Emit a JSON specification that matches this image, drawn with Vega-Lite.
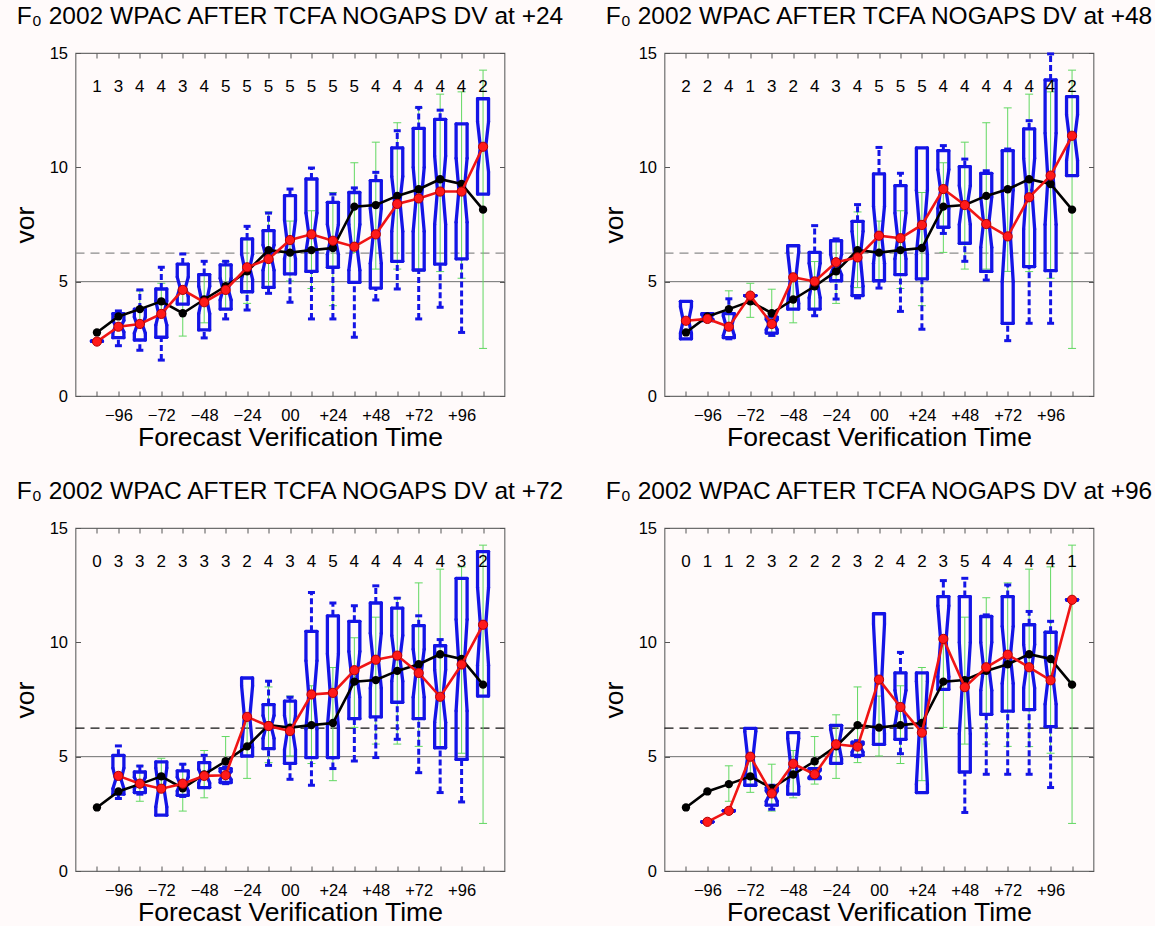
{
  "$schema": "https://vega.github.io/schema/vega-lite/v6.json",
  "background": "#fffafa",
  "padding": {"left": 11.5, "top": 2, "right": 0, "bottom": 0},
  "bounds": "flush",
  "columns": 2,
  "spacing": {"row": 132, "column": 160},
  "datasets": {
    "analysis": [
      {"h": -108, "blk": 2.78, "glo": null, "ghi": null},
      {"h": -96, "blk": 3.48, "glo": null, "ghi": null},
      {"h": -84, "blk": 3.8, "glo": 3.05, "ghi": 4.6},
      {"h": -72, "blk": 4.14, "glo": 3.44, "ghi": 4.93},
      {"h": -60, "blk": 3.62, "glo": 2.62, "ghi": 4.67},
      {"h": -48, "blk": 4.22, "glo": 3.2, "ghi": 5.27},
      {"h": -36, "blk": 4.8, "glo": 3.8, "ghi": 5.88},
      {"h": -24, "blk": 5.45, "glo": 4.05, "ghi": 6.83},
      {"h": -12, "blk": 6.38, "glo": 4.74, "ghi": 8.05},
      {"h": 0, "blk": 6.27, "glo": 5.03, "ghi": 7.65},
      {"h": 12, "blk": 6.38, "glo": 4.7, "ghi": 8.1},
      {"h": 24, "blk": 6.47, "glo": 3.95, "ghi": 8.9},
      {"h": 36, "blk": 8.28, "glo": 6.28, "ghi": 10.2},
      {"h": 48, "blk": 8.35, "glo": 5.55, "ghi": 11.1},
      {"h": 60, "blk": 8.75, "glo": 5.55, "ghi": 11.95},
      {"h": 72, "blk": 9.04, "glo": 5.45, "ghi": 12.6},
      {"h": 84, "blk": 9.48, "glo": 5.44, "ghi": 13.2},
      {"h": 96, "blk": 9.27, "glo": 5.15, "ghi": 13.3},
      {"h": 108, "blk": 8.15, "glo": 2.08, "ghi": 14.25}
    ]
  },
  "data": {
    "values": [
      {"lead": 24, "h": -108, "n": 1, "q1": 2.4, "nlo": 2.4, "med": 2.4, "nhi": 2.4, "q3": 2.4, "wlo": null, "whi": null, "red": 2.38},
      {"lead": 24, "h": -96, "n": 3, "q1": 2.55, "nlo": 2.8, "med": 3.05, "nhi": 3.3, "q3": 3.6, "wlo": 2.2, "whi": 3.72, "red": 3.03},
      {"lead": 24, "h": -84, "n": 4, "q1": 2.45, "nlo": 2.75, "med": 3.1, "nhi": 3.45, "q3": 3.8, "wlo": 2.0, "whi": 4.64, "red": 3.15},
      {"lead": 24, "h": -72, "n": 4, "q1": 2.57, "nlo": 3.1, "med": 3.6, "nhi": 4.15, "q3": 4.68, "wlo": 1.57, "whi": 5.63, "red": 3.59},
      {"lead": 24, "h": -60, "n": 3, "q1": 4.02, "nlo": 4.35, "med": 4.75, "nhi": 5.2, "q3": 5.77, "wlo": null, "whi": 6.21, "red": 4.64},
      {"lead": 24, "h": -48, "n": 4, "q1": 2.89, "nlo": 3.6, "med": 4.2, "nhi": 4.8, "q3": 5.31, "wlo": 2.54, "whi": 5.89, "red": 4.1},
      {"lead": 24, "h": -36, "n": 5, "q1": 3.8, "nlo": 4.2, "med": 4.65, "nhi": 5.15, "q3": 5.73, "wlo": 3.37, "whi": 5.89, "red": 4.64},
      {"lead": 24, "h": -24, "n": 5, "q1": 4.56, "nlo": 5.1, "med": 5.6, "nhi": 6.2, "q3": 6.87, "wlo": 3.76, "whi": 7.42, "red": 5.63},
      {"lead": 24, "h": -12, "n": 5, "q1": 4.75, "nlo": 5.5, "med": 6.1, "nhi": 6.6, "q3": 7.23, "wlo": 4.49, "whi": 8.0, "red": 5.99},
      {"lead": 24, "h": 0, "n": 5, "q1": 5.34, "nlo": 6.0, "med": 6.7, "nhi": 7.7, "q3": 8.76, "wlo": 4.1, "whi": 9.05, "red": 6.82},
      {"lead": 24, "h": 12, "n": 5, "q1": 5.45, "nlo": 6.3, "med": 7.1, "nhi": 8.0, "q3": 9.49, "wlo": 3.37, "whi": 9.97, "red": 7.07},
      {"lead": 24, "h": 24, "n": 5, "q1": 5.63, "nlo": 6.2, "med": 6.8, "nhi": 7.5, "q3": 8.47, "wlo": 3.37, "whi": 8.83, "red": 6.79},
      {"lead": 24, "h": 36, "n": 5, "q1": 4.97, "nlo": 5.5, "med": 6.5, "nhi": 7.5, "q3": 8.9, "wlo": 2.57, "whi": 9.1, "red": 6.53},
      {"lead": 24, "h": 48, "n": 4, "q1": 4.72, "nlo": 5.8, "med": 7.0, "nhi": 8.2, "q3": 9.42, "wlo": 4.2, "whi": 9.78, "red": 7.07},
      {"lead": 24, "h": 60, "n": 4, "q1": 5.89, "nlo": 7.2, "med": 8.5, "nhi": 9.6, "q3": 10.85, "wlo": 4.68, "whi": 11.6, "red": 8.4},
      {"lead": 24, "h": 72, "n": 4, "q1": 5.51, "nlo": 7.2, "med": 8.6, "nhi": 10.0, "q3": 11.7, "wlo": 3.37, "whi": 12.62, "red": 8.64},
      {"lead": 24, "h": 84, "n": 4, "q1": 5.77, "nlo": 7.5, "med": 9.0, "nhi": 10.5, "q3": 12.1, "wlo": 3.88, "whi": 12.5, "red": 8.94},
      {"lead": 24, "h": 96, "n": 4, "q1": 6.0, "nlo": 7.6, "med": 9.0, "nhi": 10.4, "q3": 11.9, "wlo": 2.78, "whi": null, "red": 8.94},
      {"lead": 24, "h": 108, "n": 2, "q1": 8.83, "nlo": 9.8, "med": 10.9, "nhi": 12.0, "q3": 13.0, "wlo": null, "whi": null, "red": 10.9},

      {"lead": 48, "h": -108, "n": 2, "q1": 2.5, "nlo": 2.75, "med": 3.3, "nhi": 3.9, "q3": 4.14, "wlo": null, "whi": null, "red": 3.29},
      {"lead": 48, "h": -96, "n": 2, "q1": 3.3, "nlo": 3.35, "med": 3.45, "nhi": 3.55, "q3": 3.6, "wlo": null, "whi": null, "red": 3.37},
      {"lead": 48, "h": -84, "n": 4, "q1": 2.55, "nlo": 2.65, "med": 3.05, "nhi": 3.5, "q3": 3.6, "wlo": 2.5, "whi": 4.25, "red": 3.03},
      {"lead": 48, "h": -72, "n": 1, "q1": 4.39, "nlo": 4.39, "med": 4.39, "nhi": 4.39, "q3": 4.39, "wlo": null, "whi": null, "red": 4.39},
      {"lead": 48, "h": -60, "n": 3, "q1": 2.75, "nlo": 2.9, "med": 3.15, "nhi": 3.35, "q3": 3.45, "wlo": 2.65, "whi": 3.6, "red": 3.15},
      {"lead": 48, "h": -48, "n": 2, "q1": 3.8, "nlo": 4.05, "med": 5.2, "nhi": 6.3, "q3": 6.57, "wlo": null, "whi": null, "red": 5.19},
      {"lead": 48, "h": -36, "n": 4, "q1": 3.8, "nlo": 4.3, "med": 5.0, "nhi": 5.8, "q3": 6.28, "wlo": 3.51, "whi": 7.45, "red": 5.01},
      {"lead": 48, "h": -24, "n": 3, "q1": 5.04, "nlo": 5.3, "med": 5.6, "nhi": 6.2, "q3": 6.79, "wlo": 4.24, "whi": 6.87, "red": 5.85},
      {"lead": 48, "h": -12, "n": 4, "q1": 4.39, "nlo": 4.8, "med": 6.1, "nhi": 7.2, "q3": 7.64, "wlo": 4.29, "whi": 8.37, "red": 6.06},
      {"lead": 48, "h": 0, "n": 5, "q1": 5.04, "nlo": 5.8, "med": 7.0, "nhi": 8.3, "q3": 9.71, "wlo": 4.72, "whi": 10.87, "red": 7.01},
      {"lead": 48, "h": 12, "n": 5, "q1": 5.31, "nlo": 6.0, "med": 6.9, "nhi": 8.0, "q3": 9.2, "wlo": 3.7, "whi": 9.74, "red": 6.9},
      {"lead": 48, "h": 24, "n": 5, "q1": 5.12, "nlo": 6.2, "med": 7.5, "nhi": 9.0, "q3": 10.85, "wlo": 2.92, "whi": null, "red": 7.48},
      {"lead": 48, "h": 36, "n": 4, "q1": 7.38, "nlo": 8.2, "med": 9.0, "nhi": 9.9, "q3": 10.73, "wlo": 7.11, "whi": 10.95, "red": 9.05},
      {"lead": 48, "h": 48, "n": 4, "q1": 6.68, "nlo": 7.5, "med": 8.4, "nhi": 9.2, "q3": 10.03, "wlo": 5.89, "whi": 10.36, "red": 8.35},
      {"lead": 48, "h": 60, "n": 4, "q1": 5.45, "nlo": 6.5, "med": 7.6, "nhi": 8.7, "q3": 9.74, "wlo": 5.07, "whi": 9.85, "red": 7.52},
      {"lead": 48, "h": 72, "n": 4, "q1": 3.18, "nlo": 5.0, "med": 7.0, "nhi": 9.0, "q3": 10.73, "wlo": 2.42, "whi": 10.8, "red": 6.98},
      {"lead": 48, "h": 84, "n": 4, "q1": 5.66, "nlo": 7.3, "med": 9.0, "nhi": 10.4, "q3": 11.68, "wlo": 3.18, "whi": 12.04, "red": 8.69},
      {"lead": 48, "h": 96, "n": 4, "q1": 5.48, "nlo": 7.5, "med": 9.5, "nhi": 11.5, "q3": 13.82, "wlo": 3.18, "whi": 14.96, "red": 9.64},
      {"lead": 48, "h": 108, "n": 2, "q1": 9.64, "nlo": 10.3, "med": 11.3, "nhi": 12.3, "q3": 13.09, "wlo": null, "whi": null, "red": 11.38},

      {"lead": 72, "h": -108, "n": 0, "q1": null, "nlo": null, "med": null, "nhi": null, "q3": null, "wlo": null, "whi": null, "red": null},
      {"lead": 72, "h": -96, "n": 3, "q1": 3.36, "nlo": 3.6, "med": 4.0, "nhi": 4.5, "q3": 5.06, "wlo": 3.17, "whi": 5.47, "red": 4.16},
      {"lead": 72, "h": -84, "n": 3, "q1": 3.43, "nlo": 3.6, "med": 3.85, "nhi": 4.1, "q3": 4.33, "wlo": 3.36, "whi": 4.59, "red": 3.82},
      {"lead": 72, "h": -72, "n": 2, "q1": 2.44, "nlo": 2.8, "med": 3.6, "nhi": 4.5, "q3": 4.77, "wlo": null, "whi": null, "red": 3.6},
      {"lead": 72, "h": -60, "n": 3, "q1": 3.31, "nlo": 3.5, "med": 3.8, "nhi": 4.1, "q3": 4.38, "wlo": 3.26, "whi": 4.67, "red": 3.82},
      {"lead": 72, "h": -48, "n": 3, "q1": 3.65, "nlo": 3.85, "med": 4.15, "nhi": 4.45, "q3": 4.74, "wlo": null, "whi": 5.06, "red": 4.16},
      {"lead": 72, "h": -36, "n": 3, "q1": 3.87, "nlo": 4.0, "med": 4.2, "nhi": 4.35, "q3": 4.48, "wlo": 3.82, "whi": 4.55, "red": 4.19},
      {"lead": 72, "h": -24, "n": 2, "q1": 5.03, "nlo": 5.4, "med": 6.74, "nhi": 8.1, "q3": 8.44, "wlo": null, "whi": null, "red": 6.74},
      {"lead": 72, "h": -12, "n": 4, "q1": 5.35, "nlo": 5.8, "med": 6.3, "nhi": 6.8, "q3": 7.28, "wlo": 4.62, "whi": 8.3, "red": 6.34},
      {"lead": 72, "h": 0, "n": 3, "q1": 4.71, "nlo": 5.3, "med": 6.1, "nhi": 6.8, "q3": 7.43, "wlo": 4.01, "whi": 7.6, "red": 6.12},
      {"lead": 72, "h": 12, "n": 4, "q1": 4.96, "nlo": 6.2, "med": 7.7, "nhi": 9.2, "q3": 10.48, "wlo": 3.75, "whi": 12.18, "red": 7.72},
      {"lead": 72, "h": 24, "n": 5, "q1": 4.96, "nlo": 6.3, "med": 7.8, "nhi": 9.5, "q3": 11.16, "wlo": 4.48, "whi": 11.72, "red": 7.79},
      {"lead": 72, "h": 36, "n": 4, "q1": 6.66, "nlo": 7.6, "med": 8.5, "nhi": 9.6, "q3": 10.92, "wlo": 4.81, "whi": 11.6, "red": 8.78},
      {"lead": 72, "h": 48, "n": 4, "q1": 6.74, "nlo": 8.0, "med": 9.2, "nhi": 10.4, "q3": 11.72, "wlo": 4.96, "whi": 12.47, "red": 9.24},
      {"lead": 72, "h": 60, "n": 4, "q1": 7.38, "nlo": 8.3, "med": 9.3, "nhi": 10.3, "q3": 11.5, "wlo": 5.76, "whi": 11.93, "red": 9.42},
      {"lead": 72, "h": 72, "n": 4, "q1": 6.66, "nlo": 7.6, "med": 8.7, "nhi": 9.7, "q3": 10.73, "wlo": 4.3, "whi": 11.16, "red": 8.66},
      {"lead": 72, "h": 84, "n": 4, "q1": 5.39, "nlo": 6.5, "med": 7.6, "nhi": 8.8, "q3": 9.85, "wlo": 3.43, "whi": 10.12, "red": 7.62},
      {"lead": 72, "h": 96, "n": 3, "q1": 4.88, "nlo": 7.0, "med": 9.0, "nhi": 11.0, "q3": 12.8, "wlo": 3.02, "whi": null, "red": 9.03},
      {"lead": 72, "h": 108, "n": 2, "q1": 7.65, "nlo": 9.0, "med": 10.77, "nhi": 12.4, "q3": 13.97, "wlo": null, "whi": null, "red": 10.77},

      {"lead": 96, "h": -108, "n": 0, "q1": null, "nlo": null, "med": null, "nhi": null, "q3": null, "wlo": null, "whi": null, "red": null},
      {"lead": 96, "h": -96, "n": 1, "q1": 2.15, "nlo": 2.15, "med": 2.15, "nhi": 2.15, "q3": 2.15, "wlo": null, "whi": null, "red": 2.15},
      {"lead": 96, "h": -84, "n": 1, "q1": 2.63, "nlo": 2.63, "med": 2.63, "nhi": 2.63, "q3": 2.63, "wlo": null, "whi": null, "red": 2.63},
      {"lead": 96, "h": -72, "n": 2, "q1": 3.75, "nlo": 4.0, "med": 5.0, "nhi": 6.1, "q3": 6.24, "wlo": null, "whi": null, "red": 5.0},
      {"lead": 96, "h": -60, "n": 3, "q1": 2.88, "nlo": 3.05, "med": 3.3, "nhi": 3.5, "q3": 3.65, "wlo": 2.7, "whi": 3.75, "red": 3.39},
      {"lead": 96, "h": -48, "n": 2, "q1": 3.36, "nlo": 3.7, "med": 4.7, "nhi": 5.8, "q3": 6.05, "wlo": null, "whi": null, "red": 4.69},
      {"lead": 96, "h": -36, "n": 2, "q1": 4.04, "nlo": 4.1, "med": 4.23, "nhi": 4.4, "q3": 4.48, "wlo": null, "whi": null, "red": 4.23},
      {"lead": 96, "h": -24, "n": 2, "q1": 4.71, "nlo": 4.9, "med": 5.54, "nhi": 6.2, "q3": 6.37, "wlo": null, "whi": null, "red": 5.54},
      {"lead": 96, "h": -12, "n": 3, "q1": 5.06, "nlo": 5.2, "med": 5.44, "nhi": 5.55, "q3": 5.64, "wlo": 5.0, "whi": 5.7, "red": 5.44},
      {"lead": 96, "h": 0, "n": 2, "q1": 5.54, "nlo": 6.0, "med": 8.37, "nhi": 10.8, "q3": 11.25, "wlo": null, "whi": null, "red": 8.37},
      {"lead": 96, "h": 12, "n": 4, "q1": 5.76, "nlo": 6.4, "med": 7.17, "nhi": 7.9, "q3": 8.66, "wlo": 5.13, "whi": 9.56, "red": 7.17},
      {"lead": 96, "h": 24, "n": 2, "q1": 3.43, "nlo": 3.8, "med": 6.05, "nhi": 8.3, "q3": 8.66, "wlo": null, "whi": null, "red": 6.05},
      {"lead": 96, "h": 36, "n": 3, "q1": 7.94, "nlo": 8.5, "med": 10.1, "nhi": 11.6, "q3": 12.0, "wlo": null, "whi": 12.7, "red": 10.15},
      {"lead": 96, "h": 48, "n": 5, "q1": 4.33, "nlo": 6.0, "med": 8.0, "nhi": 10.0, "q3": 12.0, "wlo": 2.56, "whi": 12.8, "red": 8.04},
      {"lead": 96, "h": 60, "n": 4, "q1": 6.85, "nlo": 7.9, "med": 8.9, "nhi": 10.0, "q3": 11.13, "wlo": 4.23, "whi": 11.2, "red": 8.91},
      {"lead": 96, "h": 72, "n": 4, "q1": 6.99, "nlo": 8.2, "med": 9.4, "nhi": 10.7, "q3": 12.0, "wlo": 4.23, "whi": 12.51, "red": 9.46},
      {"lead": 96, "h": 84, "n": 4, "q1": 7.06, "nlo": 8.0, "med": 8.9, "nhi": 9.9, "q3": 10.77, "wlo": 4.23, "whi": 11.35, "red": 8.91},
      {"lead": 96, "h": 96, "n": 4, "q1": 6.31, "nlo": 7.3, "med": 8.34, "nhi": 9.4, "q3": 10.44, "wlo": 3.65, "whi": 10.92, "red": 8.34},
      {"lead": 96, "h": 108, "n": 1, "q1": 11.86, "nlo": 11.86, "med": 11.86, "nhi": 11.86, "q3": 11.86, "wlo": null, "whi": null, "red": 11.86}
    ]
  },
  "transform": [
    {"lookup": "h", "from": {"data": {"name": "analysis"}, "key": "h", "fields": ["blk", "glo", "ghi"]}}
  ],
  "facet": {
    "field": "lead",
    "type": "ordinal",
    "title": null,
    "header": {
      "labelExpr": "'F₀ 2002 WPAC AFTER TCFA NOGAPS DV at +' + datum.value",
      "labelFont": "Liberation Sans",
      "labelFontSize": 24.5,
      "labelColor": "#000000",
      "labelBaseline": "alphabetic",
      "labelPadding": -3
    }
  },
  "spec": {
    "width": 429,
    "height": 343,
    "encoding": {
      "x": {"field": "h", "type": "quantitative", "scale": {"domain": [-120, 120], "nice": false, "zero": false}, "axis": null}
    },
    "layer": [
      {
        "transform": [{"filter": "datum.h == 0"}],
        "mark": {"type": "rule", "color": "#6f6f6f", "strokeWidth": 1},
        "encoding": {
          "x": {"datum": -120, "type": "quantitative", "scale": {"domain": [-120, 120], "nice": false, "zero": false}, "axis": null},
          "x2": {"datum": 120},
          "y": {"datum": 5, "type": "quantitative", "scale": {"domain": [0, 15], "nice": false}, "axis": null}
        }
      },
      {
        "transform": [{"filter": "datum.h == 0 && datum.lead <= 48"}],
        "mark": {"type": "rule", "color": "#8c8c8c", "strokeWidth": 1.3, "strokeDash": [9, 6]},
        "encoding": {
          "x": {"datum": -120, "type": "quantitative", "scale": {"domain": [-120, 120], "nice": false, "zero": false}, "axis": null},
          "x2": {"datum": 120},
          "y": {"datum": 6.25, "type": "quantitative", "scale": {"domain": [0, 15], "nice": false}, "axis": null}
        }
      },
      {
        "transform": [{"filter": "datum.h == 0 && datum.lead >= 72"}],
        "mark": {"type": "rule", "color": "#111111", "strokeWidth": 1.3, "strokeDash": [9, 6]},
        "encoding": {
          "x": {"datum": -120, "type": "quantitative", "scale": {"domain": [-120, 120], "nice": false, "zero": false}, "axis": null},
          "x2": {"datum": 120},
          "y": {"datum": 6.25, "type": "quantitative", "scale": {"domain": [0, 15], "nice": false}, "axis": null}
        }
      },
      {
        "mark": {"type": "rule", "color": "#62d862", "strokeWidth": 1},
        "encoding": {
          "y": {"field": "glo", "type": "quantitative", "scale": {"domain": [0, 15], "nice": false}, "axis": null},
          "y2": {"field": "ghi"}
        }
      },
      {
        "mark": {"type": "rule", "color": "#62d862", "strokeWidth": 1, "xOffset": -4, "x2Offset": 4},
        "encoding": {
          "x2": {"field": "h"},
          "y": {"field": "glo", "type": "quantitative", "scale": {"domain": [0, 15], "nice": false}, "axis": null}
        }
      },
      {
        "mark": {"type": "rule", "color": "#62d862", "strokeWidth": 1, "xOffset": -4, "x2Offset": 4},
        "encoding": {
          "x2": {"field": "h"},
          "y": {"field": "ghi", "type": "quantitative", "scale": {"domain": [0, 15], "nice": false}, "axis": null}
        }
      },
      {
        "mark": {"type": "rule", "color": "#1414e6", "strokeWidth": 3, "strokeDash": [6, 3]},
        "encoding": {
          "y": {"field": "q3", "type": "quantitative", "scale": {"domain": [0, 15], "nice": false}, "axis": null},
          "y2": {"field": "whi"}
        }
      },
      {
        "mark": {"type": "rule", "color": "#1414e6", "strokeWidth": 3, "strokeDash": [6, 3]},
        "encoding": {
          "y": {"field": "wlo", "type": "quantitative", "scale": {"domain": [0, 15], "nice": false}, "axis": null},
          "y2": {"field": "q1"}
        }
      },
      {
        "mark": {"type": "rule", "color": "#1414e6", "strokeWidth": 3, "xOffset": -3.5, "x2Offset": 3.5},
        "encoding": {
          "x2": {"field": "h"},
          "y": {"field": "whi", "type": "quantitative", "scale": {"domain": [0, 15], "nice": false}, "axis": null}
        }
      },
      {
        "mark": {"type": "rule", "color": "#1414e6", "strokeWidth": 3, "xOffset": -3.5, "x2Offset": 3.5},
        "encoding": {
          "x2": {"field": "h"},
          "y": {"field": "wlo", "type": "quantitative", "scale": {"domain": [0, 15], "nice": false}, "axis": null}
        }
      },
      {
        "mark": {"type": "rule", "color": "#1414e6", "strokeWidth": 3.3, "strokeCap": "round", "xOffset": -5.5},
        "encoding": {
          "y": {"field": "q1", "type": "quantitative", "scale": {"domain": [0, 15], "nice": false}, "axis": null},
          "y2": {"field": "nlo"}
        }
      },
      {
        "mark": {"type": "rule", "color": "#1414e6", "strokeWidth": 3.3, "strokeCap": "round", "xOffset": -5.5, "x2Offset": -2.7},
        "encoding": {
          "x2": {"field": "h"},
          "y": {"field": "nlo", "type": "quantitative", "scale": {"domain": [0, 15], "nice": false}, "axis": null},
          "y2": {"field": "med"}
        }
      },
      {
        "mark": {"type": "rule", "color": "#1414e6", "strokeWidth": 3.3, "strokeCap": "round", "xOffset": -2.7, "x2Offset": -5.5},
        "encoding": {
          "x2": {"field": "h"},
          "y": {"field": "med", "type": "quantitative", "scale": {"domain": [0, 15], "nice": false}, "axis": null},
          "y2": {"field": "nhi"}
        }
      },
      {
        "mark": {"type": "rule", "color": "#1414e6", "strokeWidth": 3.3, "strokeCap": "round", "xOffset": -5.5},
        "encoding": {
          "y": {"field": "nhi", "type": "quantitative", "scale": {"domain": [0, 15], "nice": false}, "axis": null},
          "y2": {"field": "q3"}
        }
      },
      {
        "mark": {"type": "rule", "color": "#1414e6", "strokeWidth": 3.3, "strokeCap": "round", "xOffset": 5.5},
        "encoding": {
          "y": {"field": "q1", "type": "quantitative", "scale": {"domain": [0, 15], "nice": false}, "axis": null},
          "y2": {"field": "nlo"}
        }
      },
      {
        "mark": {"type": "rule", "color": "#1414e6", "strokeWidth": 3.3, "strokeCap": "round", "xOffset": 5.5, "x2Offset": 2.7},
        "encoding": {
          "x2": {"field": "h"},
          "y": {"field": "nlo", "type": "quantitative", "scale": {"domain": [0, 15], "nice": false}, "axis": null},
          "y2": {"field": "med"}
        }
      },
      {
        "mark": {"type": "rule", "color": "#1414e6", "strokeWidth": 3.3, "strokeCap": "round", "xOffset": 2.7, "x2Offset": 5.5},
        "encoding": {
          "x2": {"field": "h"},
          "y": {"field": "med", "type": "quantitative", "scale": {"domain": [0, 15], "nice": false}, "axis": null},
          "y2": {"field": "nhi"}
        }
      },
      {
        "mark": {"type": "rule", "color": "#1414e6", "strokeWidth": 3.3, "strokeCap": "round", "xOffset": 5.5},
        "encoding": {
          "y": {"field": "nhi", "type": "quantitative", "scale": {"domain": [0, 15], "nice": false}, "axis": null},
          "y2": {"field": "q3"}
        }
      },
      {
        "mark": {"type": "rule", "color": "#1414e6", "strokeWidth": 3.3, "strokeCap": "round", "xOffset": -5.5, "x2Offset": 5.5},
        "encoding": {
          "x2": {"field": "h"},
          "y": {"field": "q3", "type": "quantitative", "scale": {"domain": [0, 15], "nice": false}, "axis": null}
        }
      },
      {
        "mark": {"type": "rule", "color": "#1414e6", "strokeWidth": 3.3, "strokeCap": "round", "xOffset": -5.5, "x2Offset": 5.5},
        "encoding": {
          "x2": {"field": "h"},
          "y": {"field": "q1", "type": "quantitative", "scale": {"domain": [0, 15], "nice": false}, "axis": null}
        }
      },
      {
        "mark": {"type": "line", "color": "#000000", "strokeWidth": 2.6},
        "encoding": {
          "x": {
            "field": "h", "type": "quantitative",
            "scale": {"domain": [-120, 120], "nice": false, "zero": false},
            "axis": {
              "orient": "bottom",
              "values": [-108, -96, -84, -72, -60, -48, -36, -24, -12, 0, 12, 24, 36, 48, 60, 72, 84, 96, 108],
              "labelExpr": "datum.value == 0 ? '00' : (datum.value % 24 != 0 ? '' : (datum.value > 0 ? '+' + datum.value : '−' + abs(datum.value)))",
              "title": "Forecast Verification Time",
              "labelPadding": 16,
              "titlePadding": 1
            }
          },
          "y": {
            "field": "blk", "type": "quantitative",
            "scale": {"domain": [0, 15], "nice": false},
            "axis": {"orient": "left", "values": [0, 5, 10, 15], "title": "vor", "labelPadding": 13, "titlePadding": 10}
          }
        }
      },
      {
        "mark": {"type": "point", "filled": true, "size": 70, "color": "#000000", "opacity": 1},
        "encoding": {
          "y": {"field": "blk", "type": "quantitative", "scale": {"domain": [0, 15], "nice": false}, "axis": null}
        }
      },
      {
        "mark": {"type": "line", "color": "#f01414", "strokeWidth": 2.6},
        "encoding": {
          "x": {
            "field": "h", "type": "quantitative",
            "scale": {"domain": [-120, 120], "nice": false, "zero": false},
            "axis": {
              "orient": "top",
              "values": [-108, -96, -84, -72, -60, -48, -36, -24, -12, 0, 12, 24, 36, 48, 60, 72, 84, 96, 108],
              "labels": false,
              "title": null
            }
          },
          "y": {
            "field": "red", "type": "quantitative",
            "scale": {"domain": [0, 15], "nice": false},
            "axis": {"orient": "right", "values": [0, 5, 10, 15], "labels": false, "title": null}
          }
        }
      },
      {
        "mark": {"type": "point", "filled": true, "size": 85, "color": "#ff1a1a", "stroke": "#b40000", "strokeWidth": 1, "opacity": 1},
        "encoding": {
          "y": {"field": "red", "type": "quantitative", "scale": {"domain": [0, 15], "nice": false}, "axis": null}
        }
      },
      {
        "mark": {"type": "text", "font": "Liberation Sans", "fontSize": 17, "color": "#000000", "baseline": "middle", "align": "center"},
        "encoding": {
          "y": {"datum": 13.5, "type": "quantitative", "scale": {"domain": [0, 15], "nice": false}, "axis": null},
          "text": {"field": "n", "type": "nominal"}
        }
      }
    ],
    "resolve": {"axis": {"x": "independent", "y": "independent"}}
  },
  "resolve": {
    "scale": {"x": "independent", "y": "independent"},
    "axis": {"x": "independent", "y": "independent"}
  },
  "config": {
    "view": {"stroke": "#6e6e6e", "strokeWidth": 1.2},
    "axis": {
      "domain": false,
      "grid": false,
      "tickSize": -5,
      "tickColor": "#555555",
      "tickWidth": 1,
      "labelFont": "Liberation Sans",
      "labelFontSize": 16.5,
      "labelColor": "#000000",
      "labelOverlap": false,
      "labelFlush": false,
      "titleFont": "Liberation Sans",
      "titleFontSize": 26.5,
      "titleFontWeight": "normal",
      "titleColor": "#000000"
    }
  }
}
